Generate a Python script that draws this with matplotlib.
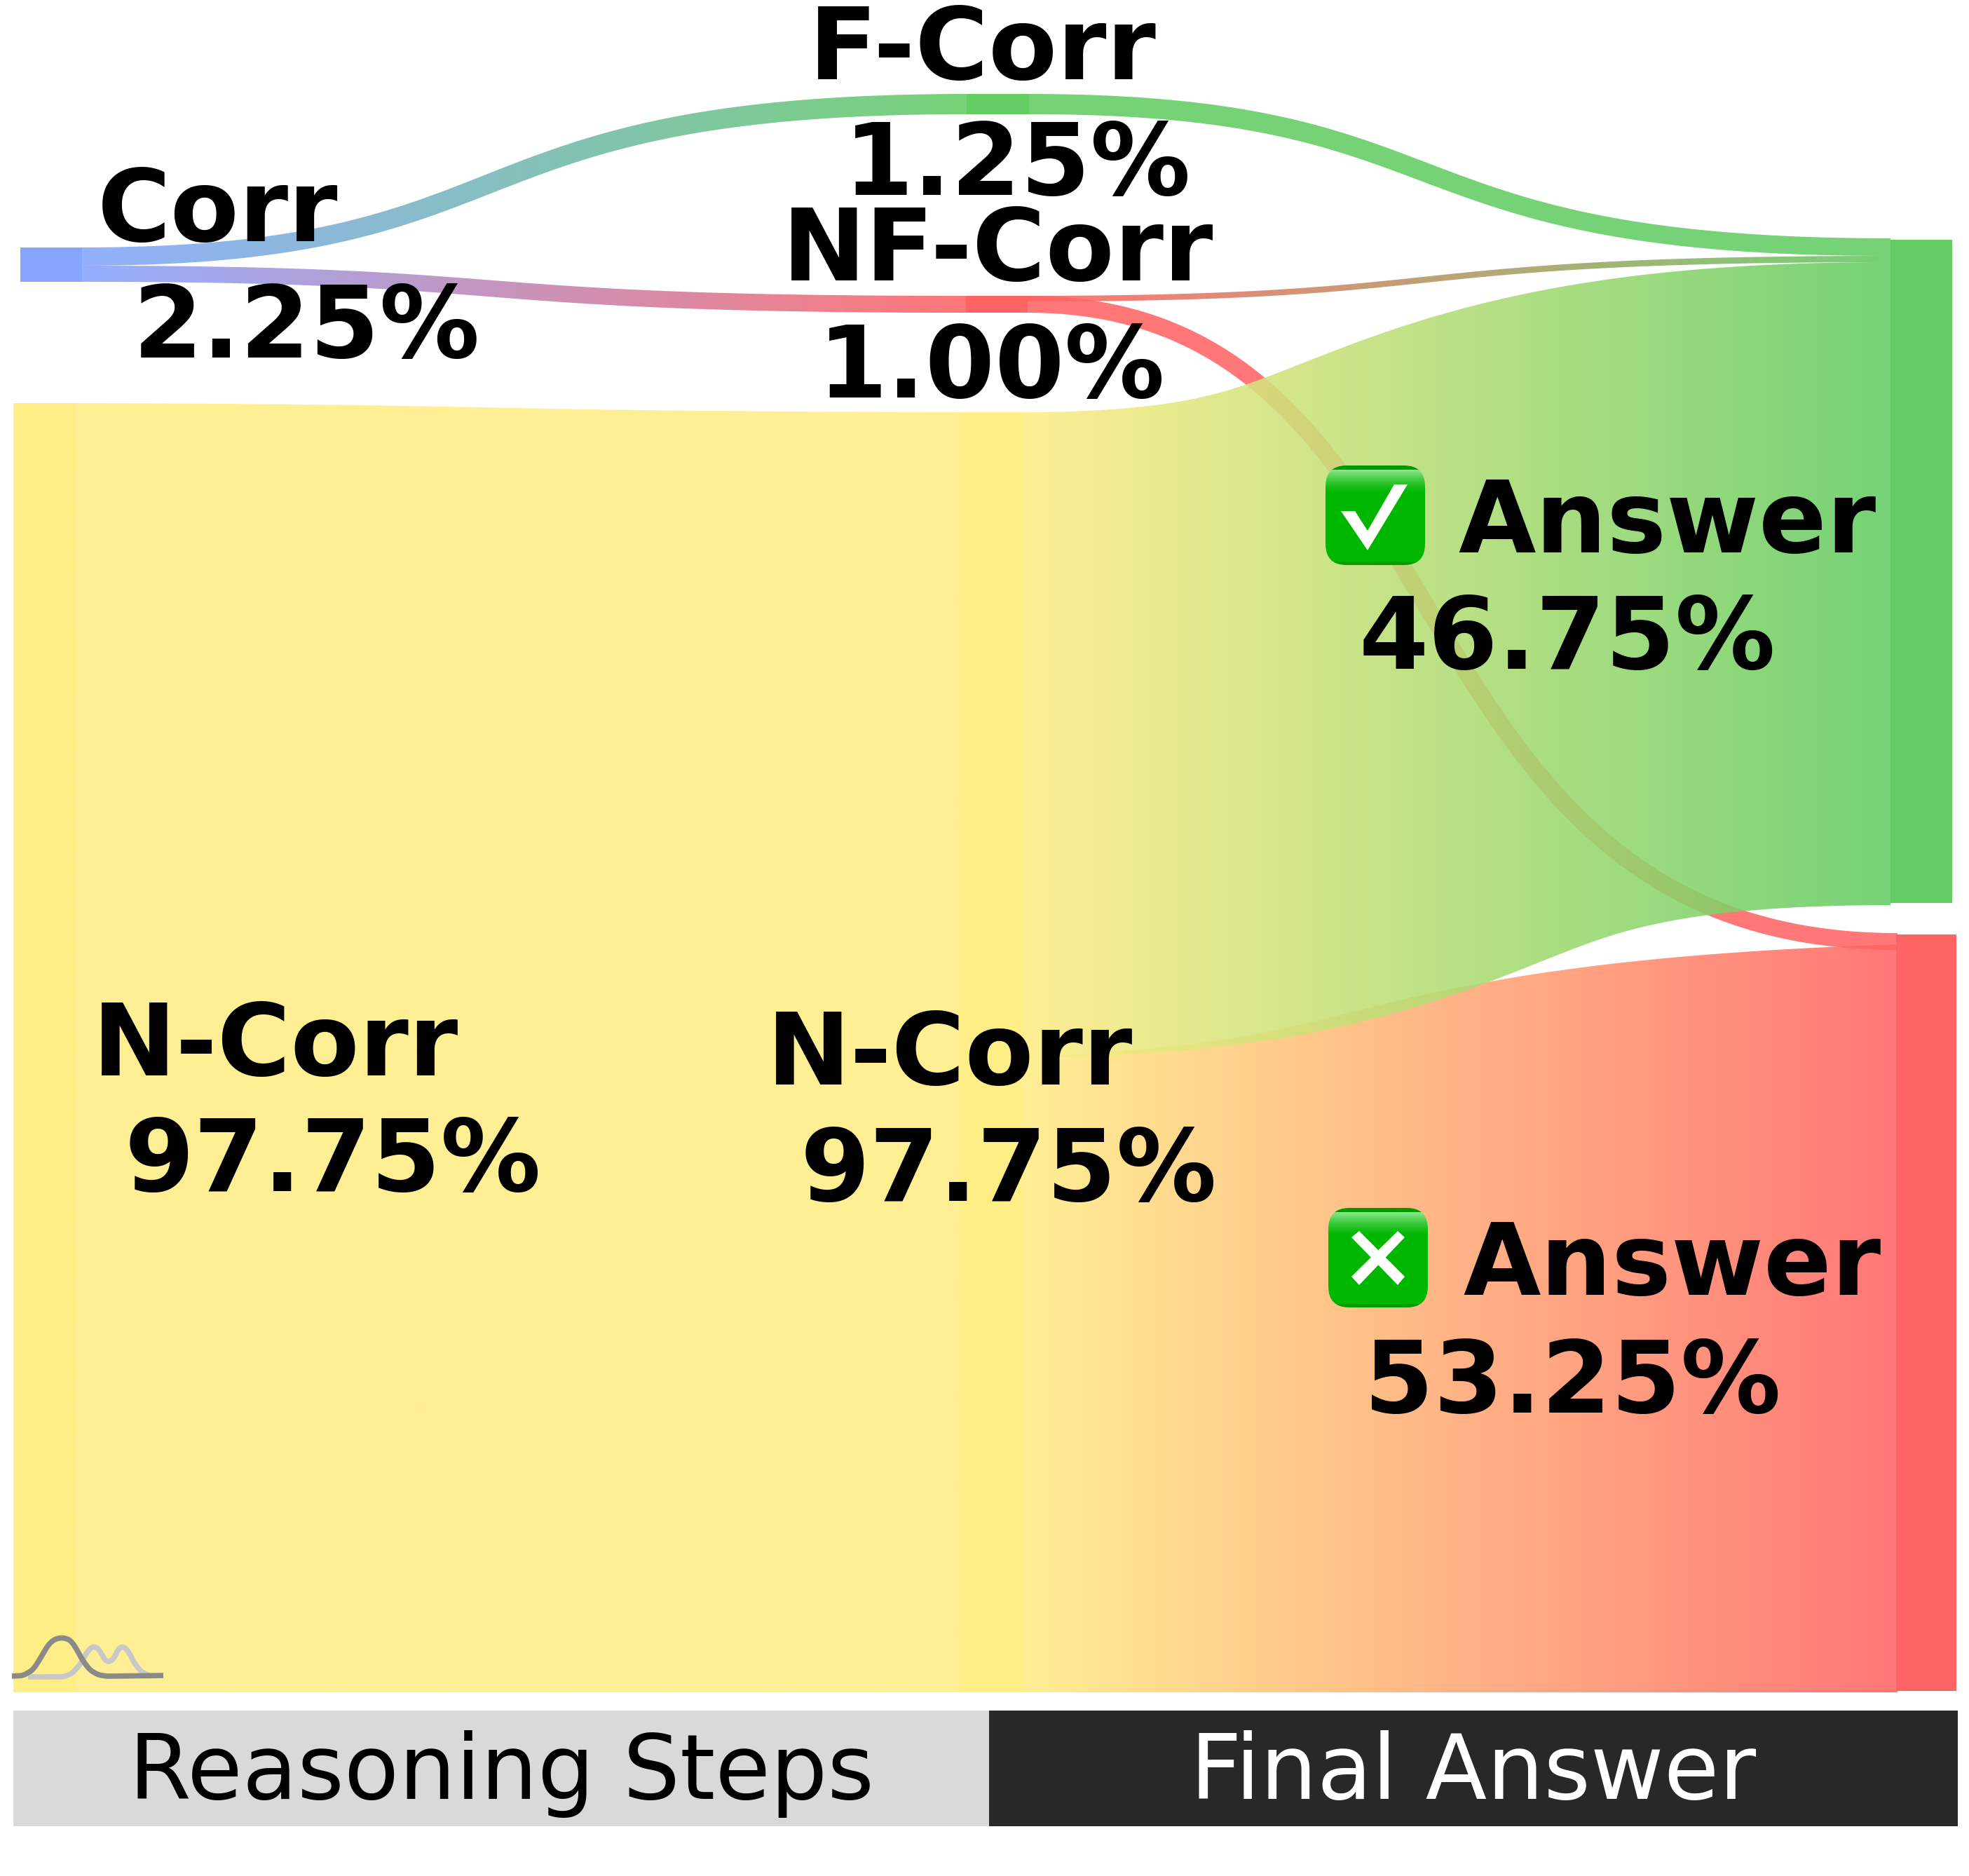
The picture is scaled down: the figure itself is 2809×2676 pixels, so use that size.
import numpy as np
import matplotlib
matplotlib.use('Agg')
import matplotlib.pyplot as plt
from matplotlib.patches import Rectangle, FancyBboxPatch, Polygon

W, H = 2809, 2676
PX_PER_PCT = 18.8
CURVE_A, CURVE_B = 0.52, 0.40
LINK_ALPHA = 0.88

# flows, in % of the total
link_src = ['corr0', 'corr0', 'ncorr0', 'ncorr1', 'nf1', 'ncorr1', 'nf1', 'f1']
link_dst = ['nf1', 'f1', 'ncorr1', 'wrong', 'wrong', 'right', 'right', 'right']
link_out = [1.22, 1.38, 97.75, 48.19, 1.28, 48.94, 0.43, 1.54]
link_in = [1.28, 1.54, 97.13, 56.76, 1.28, 48.78, 0.48, 1.33]

node_pct = {'corr0': '2.25%', 'ncorr0': '97.75%', 'f1': '1.25%', 'nf1': '1.00%',
            'ncorr1': '97.75%', 'right': '46.75%', 'wrong': '53.25%'}
node_name = {'corr0': 'Corr', 'ncorr0': 'N-Corr', 'f1': 'F-Corr', 'nf1': 'NF-Corr',
             'ncorr1': 'N-Corr', 'right': 'Answer', 'wrong': 'Answer'}

# icon outlines, bottom left corner
icon_dark_x = [17, 33, 47, 58, 68, 78, 89, 100, 108, 117, 128, 140, 152, 233]
icon_dark_y = [2391, 2390, 2382, 2365, 2347, 2338, 2336, 2339, 2350, 2367, 2382, 2389, 2391, 2390]
icon_light_x = [40, 90, 103, 115, 125, 133, 142, 148, 154, 162, 168, 175, 183, 192, 202, 213]
icon_light_y = [2392, 2392, 2387, 2373, 2355, 2348, 2353, 2366, 2371, 2367, 2353, 2348, 2355, 2373, 2385, 2390]

# layout in pixels
BLUE = '#85a5ff'
YELLOW = '#ffed85'
GREEN = '#63cc63'
RED = '#ff6464'
node_color = {'corr0': BLUE, 'ncorr0': YELLOW, 'f1': GREEN, 'nf1': RED,
              'ncorr1': YELLOW, 'right': GREEN, 'wrong': RED}
node_box = {'corr0': (29, 117, 353, 402), 'ncorr0': (19, 108, 575, 2414),
            'f1': (1379, 1468, 134, 163), 'nf1': (1378, 1466, 422, 446),
            'ncorr1': (1368, 1457, 588, 2414), 'right': (2697, 2785, 342, 1288),
            'wrong': (2705, 2791, 1333, 2412)}
# y of each link end, top of stroke (out side, in side)
link_top = {'corr0>f1': (353, 134), 'corr0>nf1': (379, 422), 'ncorr0>ncorr1': (575, 588),
            'f1>right': (134, 340), 'nf1>right': (422, 365), 'nf1>wrong': (422, 1331),
            'ncorr1>right': (588, 374), 'ncorr1>wrong': (1508, 1347)}
link_end_x = {'wrong': 2707}

# left edge and baseline of each label: name, then percent
label_pos = {'corr0': ((139, 344), (190, 510)),
             'ncorr0': ((132, 1534), (178, 1699)),
             'f1': ((1154, 113), (1204, 278)),
             'nf1': ((1116, 400), (1167, 567)),
             'ncorr1': ((1094, 1547), (1142, 1713)),
             'right': ((2080, 788), (1939, 954)),
             'wrong': ((2087, 1847), (1946, 2015))}
FS_BOLD = 102.8
FS_BAR = 92.2


def hex_rgb(c):
    return np.array(matplotlib.colors.to_rgb(c))


def stroke_outline(x0, x1, y0a, y0b, y1a, y1b):
    # the links are wide strokes along a bezier, so offset along the normal
    t = np.linspace(0, 1, 6000)
    c0, c1 = (y0a + y0b) / 2, (y1a + y1b) / 2
    cx = x0 + CURVE_A * (x1 - x0)
    cx2 = x0 + CURVE_B * (x1 - x0)
    bx = (1 - t)**3 * x0 + 3 * (1 - t)**2 * t * cx + 3 * (1 - t) * t**2 * cx2 + t**3 * x1
    by = (1 - t)**3 * c0 + 3 * (1 - t)**2 * t * c0 + 3 * (1 - t) * t**2 * c1 + t**3 * c1
    dx = 3 * (1 - t)**2 * (cx - x0) + 6 * (1 - t) * t * (cx2 - cx) + 3 * t**2 * (x1 - cx2)
    dy = 6 * (1 - t) * t * (c1 - c0)
    ln = np.hypot(dx, dy)
    half = ((1 - t) * (y0b - y0a) + t * (y1b - y1a)) / 2
    grid = np.arange(x0, x1 + 1.0)
    top = np.full(grid.size, np.nan)
    bot = np.full(grid.size, np.nan)
    for sign, arr, fn in ((-1, top, np.fmin), (1, bot, np.fmax)):
        ox = bx - sign * half * dy / ln
        oy = by + sign * half * dx / ln
        idx = np.rint(ox - x0).astype(int)
        keep = (idx >= 0) & (idx < grid.size)
        fn.at(arr, idx[keep], oy[keep])
        ok = ~np.isnan(arr)
        arr[:] = np.interp(grid, grid[ok], arr[ok])
    top = np.clip(top, min(y0a, y1a), None)
    bot = np.clip(bot, None, max(y0b, y1b))
    # both ends on the same floor: keep the bottom straight
    if abs(y0b - y1b) < 5:
        bot[:] = max(y0b, y1b)
    return np.r_[grid, grid[::-1]], np.r_[top, bot[::-1]]


def draw_link(ax, x0, x1, y0a, y0b, y1a, y1b, c0, c1, alpha):
    px, py = stroke_outline(x0, x1, y0a, y0b, y1a, y1b)
    patch = Polygon(np.c_[px, py], closed=True, fc='none', ec='none')
    ax.add_patch(patch)
    t = np.linspace(0, 1, 512)[:, None]
    rgba = np.ones((1, 512, 4))
    rgba[0, :, :3] = (1 - t) * hex_rgb(c0) + t * hex_rgb(c1)
    rgba[0, :, 3] = alpha
    im = ax.imshow(rgba, extent=(x0, x1, py.max() + 2, py.min() - 2), aspect='auto',
                   interpolation='bilinear', zorder=2)
    im.set_clip_path(patch)


def draw_emoji(ax, x0, y0, x1, y1):
    box = FancyBboxPatch((x0 + 30, y0 + 30), x1 - x0 - 60, y1 - y0 - 60,
                         boxstyle='round,pad=30,rounding_size=30', fc='none', ec='none', zorder=5)
    ax.add_patch(box)
    n = 142
    col = np.zeros((n, 1, 4))
    col[:, 0, :3] = (0.0, 0.72, 0.0)
    col[:, 0, 3] = 1
    for i in range(n):
        if i < 6:
            col[i, 0, :3] = (0.0, 0.60, 0.0)
        elif i < 40:
            f = (1 - (i - 6) / 34) ** 1.5
            col[i, 0, :3] = (0.55 * f, 0.72 + 0.18 * f, 0.55 * f)
        elif i > n - 6:
            col[i, 0, :3] = (0.0, 0.62, 0.0)
    im = ax.imshow(col, extent=(x0, x1, y1, y0), aspect='auto', interpolation='bilinear', zorder=5)
    im.set_clip_path(box)


def smooth_line(xs, ys):
    x = np.linspace(xs[0], xs[-1], 400)
    y = np.interp(x, xs, ys)
    pad = 8
    ker = np.ones(2 * pad + 1) / (2 * pad + 1)
    y = np.convolve(np.r_[np.full(pad, y[0]), y, np.full(pad, y[-1])], ker, mode='valid')
    return x, y


plt.rcParams['font.family'] = ['DejaVu Sans']
fig = plt.figure(figsize=(W / 100, H / 100), dpi=100)
ax = fig.add_axes([0, 0, 1, 1])

# Links
for i, (s, d) in enumerate(zip(link_src, link_dst)):
    y0a, y1a = link_top[s + '>' + d]
    y0b = y0a + link_out[i] * PX_PER_PCT
    y1b = y1a + link_in[i] * PX_PER_PCT
    x1 = link_end_x.get(d, node_box[d][0])
    draw_link(ax, node_box[s][1], x1, y0a, y0b, y1a, y1b, node_color[s], node_color[d], LINK_ALPHA)

# Nodes
for k, (x0, x1, y0, y1) in node_box.items():
    ax.add_patch(Rectangle((x0, y0), x1 - x0, y1 - y0, fc=node_color[k], ec='none', zorder=3))

# Icon
x, y = smooth_line(icon_light_x, icon_light_y)
ax.plot(x, y, color='#c8c8c8', lw=5.5, solid_capstyle='butt', zorder=4)
x, y = smooth_line(icon_dark_x, icon_dark_y)
ax.plot(x, y, color='#8a8a8a', lw=5.5, solid_capstyle='butt', zorder=4)

# Bottom bar
ax.add_patch(Rectangle((19, 2440), 1392, 165, fc='#d9d9d9', ec='none', zorder=3))
ax.add_patch(Rectangle((1411, 2440), 1382, 165, fc='#282828', ec='none', zorder=3))
ax.text(715, 2566, 'Reasoning Steps', fontsize=FS_BAR, color='black', ha='center', va='baseline', zorder=6)
ax.text(2102, 2566, 'Final Answer', fontsize=FS_BAR, color='white', ha='center', va='baseline', zorder=6)

# Check and cross boxes
draw_emoji(ax, 1891, 664, 2033, 806)
ax.add_patch(Polygon([(1913, 729), (1933, 729), (1951, 757), (1989, 691), (2008, 691), (1951, 785)],
                     fc='white', ec='none', zorder=6))
draw_emoji(ax, 1895, 1723, 2037, 1865)
for pts in ([(1928, 1765), (1939, 1756), (2004, 1821), (1994, 1833)],
            [(2004, 1765), (1994, 1756), (1928, 1821), (1939, 1833)]):
    ax.add_patch(Polygon(pts, fc='white', ec='none', zorder=6))

# Labels
for k, ((nx, ny), (px, py)) in label_pos.items():
    ax.text(nx, ny, node_name[k], fontsize=FS_BOLD, fontweight='bold', color='black', va='baseline', zorder=7)
    ax.text(px, py, node_pct[k], fontsize=FS_BOLD, fontweight='bold', color='black', va='baseline', zorder=7)

ax.set_xlim(0, W)
ax.set_ylim(H, 0)
ax.axis('off')
fig.savefig('out.png', dpi=100, facecolor='white')
